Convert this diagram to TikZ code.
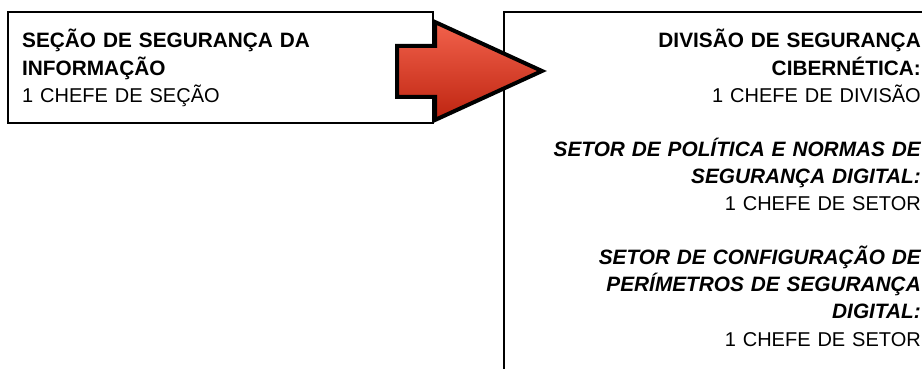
\documentclass[tikz,border=0pt]{standalone}
\usepackage{fontspec}
\setmainfont{Liberation Sans}
\usepackage{tikz}

\definecolor{setaclara}{RGB}{242,98,76}
\definecolor{setaescura}{RGB}{190,36,16}
\newcommand{\chefe}[1]{{\fontsize{20}{27.1}\selectfont #1}}

\begin{document}
\begin{tikzpicture}[x=1pt,y=-1pt,
  caixa/.style={draw=black,line width=2.5pt},
  texto/.style={inner sep=0pt,font=\fontsize{20.8}{27.1}\selectfont,text width=410pt},
  seta/.style={draw=black,line width=4pt,line join=miter,top color=setaclara,bottom color=setaescura}]
\useasboundingbox (0,0) rectangle (922,369);
\draw[caixa](8,12) rectangle (433,123);
\draw[caixa](504,12) rectangle (945,395);
\node[texto,anchor=base west,align=left] (secao) at (22,48)
  {\textbf{SEÇÃO DE SEGURANÇA DA\\INFORMAÇÃO}\\\chefe{1 CHEFE DE SEÇÃO}};
\node[texto,anchor=base east,align=right] (divisao) at (921,48)
  {\textbf{DIVISÃO DE SEGURANÇA\\CIBERNÉTICA:}\\\chefe{1 CHEFE DE DIVISÃO}\\[27.1pt]
   \textbf{\textit{SETOR DE POLÍTICA E NORMAS DE\\SEGURANÇA DIGITAL:}}\\\chefe{1 CHEFE DE SETOR}\\[27.1pt]
   \textbf{\textit{SETOR DE CONFIGURAÇÃO DE\\PERÍMETROS DE SEGURANÇA\\DIGITAL:}}\\\chefe{1 CHEFE DE SETOR}};
% seta entre as caixas
\draw[seta](397,46)--(435,46)--(435,22)--(542,71)--(435,120)--(435,97)--(397,97)--cycle;
\end{tikzpicture}
\end{document}
